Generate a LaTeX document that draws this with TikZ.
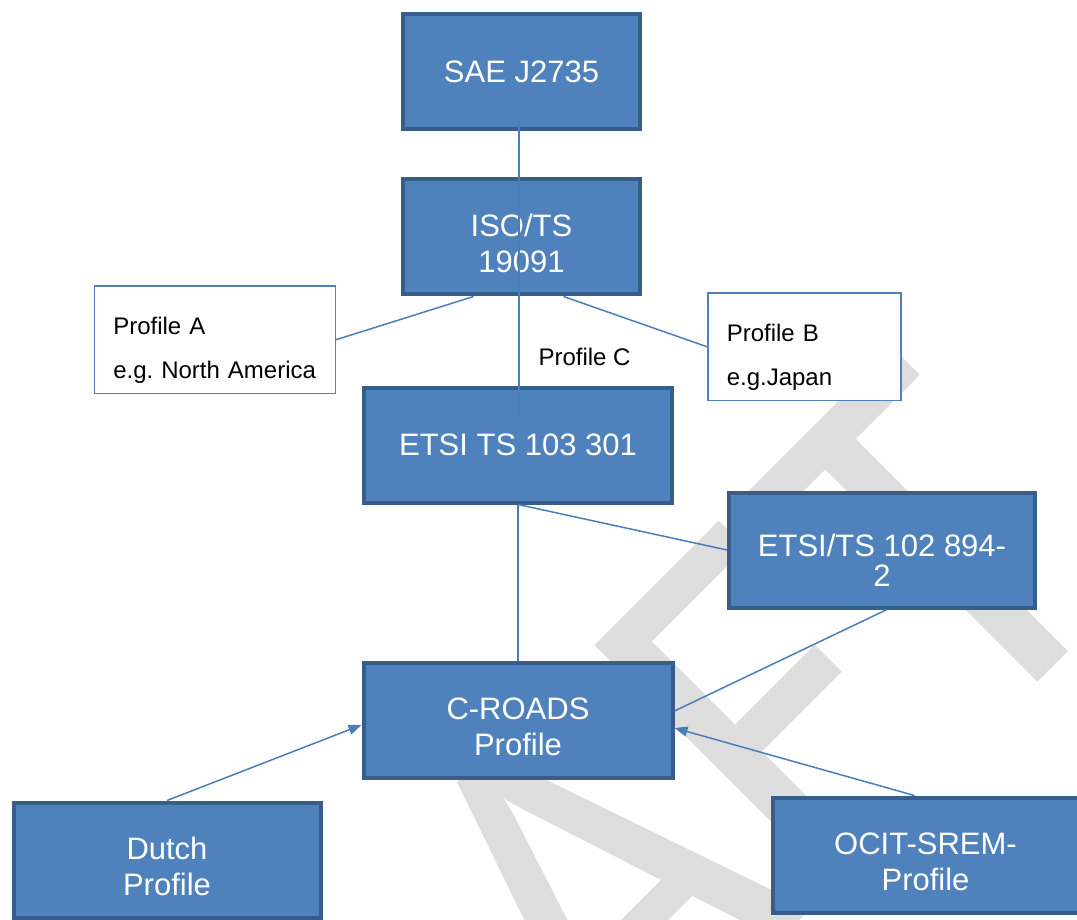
\documentclass[tikz,border=0pt]{standalone}
\usepackage{fontspec}
\setmainfont{Liberation Sans}
\newfontfamily\wmfont{Carlito}
\usepackage{tikz}
\usetikzlibrary{positioning, arrows.meta, backgrounds}
\definecolor{boxblue}{RGB}{79,129,189}
\definecolor{boxedge}{RGB}{56,93,138}
\definecolor{linkblue}{RGB}{74,126,187}
\definecolor{wmgray}{RGB}{221,221,221}
\frenchspacing

\begin{document}
\begin{tikzpicture}[
        stdbox/.style={rectangle, draw=boxedge, fill=boxblue, line width=4pt, minimum height=115pt, align=center, text=white, font=\fontsize{31}{36}\selectfont},
        twoline/.style={stdbox, text height=71pt},
        profbox/.style={rectangle, draw=boxblue, fill=white, line width=1.5pt, minimum height=107pt, align=left, inner xsep=19pt, text height=39pt, font=\fontsize{24}{44}\selectfont},
        link/.style={draw=linkblue, line width=1.5pt},
        flow/.style={link, -{Triangle[length=13pt, width=10pt]}},
    ]
    \useasboundingbox (0,0) rectangle (1077pt,-920pt);

    % ===== Standards chain =====
    \node[stdbox, minimum width=237pt] (SAE) at (521.5pt,-72pt) {SAE J2735};
    \node[twoline, minimum width=237pt, below=46pt of SAE] (ISO) {ISO/TS\\19091};
    \node[stdbox, minimum width=308pt, below=89pt of ISO, xshift=-3.5pt] (ETSI_A) {ETSI TS 103 301};
    \node[twoline, minimum width=306pt, text height=72pt, below right=-14pt and 53pt of ETSI_A] (ETSI_B) {ETSI/TS 102 894-\\[-6pt]2};
    \node[twoline, minimum width=309pt, below=156pt of ETSI_A] (CROADS) {C-ROADS\\Profile};

    % ===== National profiles =====
    \node[twoline, minimum width=307pt, below left=21pt and 39pt of CROADS] (DUTCH) {Dutch\\Profile};
    \node[twoline, minimum width=306pt, below right=16pt and 96pt of CROADS] (OCIT) {OCIT-SREM-\\Profile};

    % ===== Regional profiles =====
    \node[profbox, minimum width=241pt, text width=203pt, below left=-11pt and 65pt of ISO] (PROF_A)
        {Profile A\\\mbox{e.g. North America}};
    \node[profbox, minimum width=193pt, text width=155pt, below right=-4pt and 65pt of ISO] (PROF_B)
        {Profile B\\\mbox{e.g.Japan}};
    \node[font=\fontsize{24}{28}\selectfont, above right=16pt and 17pt of ETSI_A.north] (PROF_C) {Profile C};

    % ===== Connectors =====
    \draw[link] ([xshift=-2.5pt, yshift=9pt]SAE.south) -- ([xshift=1pt, yshift=-29pt]ETSI_A.north);
    \draw[link] ([xshift=-48pt]ISO.south) -- (PROF_A.east);
    \draw[link] ([xshift=42pt]ISO.south) -- (PROF_B.west);
    \draw[link] (ETSI_A.south) -- (CROADS.north);
    \draw[link] (ETSI_A.south) -- (ETSI_B.west);
    \draw[link] ([xshift=5pt]ETSI_B.south) -- ([yshift=9pt]CROADS.east);
    \draw[flow] (DUTCH.north) -- ([yshift=-5pt]CROADS.west);
    \draw[flow] ([xshift=-11pt]OCIT.north) -- ([yshift=-8pt]CROADS.east);

    % Watermark behind everything
    \begin{scope}[on background layer]
        \clip (0,0) rectangle (1077pt,-920pt);
        \begin{scope}[shift={(216pt,-1504pt)}, rotate=45, yscale=1.09]
            \node[anchor=base west, inner sep=0pt, text=wmgray, transform shape,
                  font=\wmfont\fontsize{485}{485}\selectfont] (WM) at (0,0) {DRAFT};
        \end{scope}
    \end{scope}

\end{tikzpicture}
\end{document}
